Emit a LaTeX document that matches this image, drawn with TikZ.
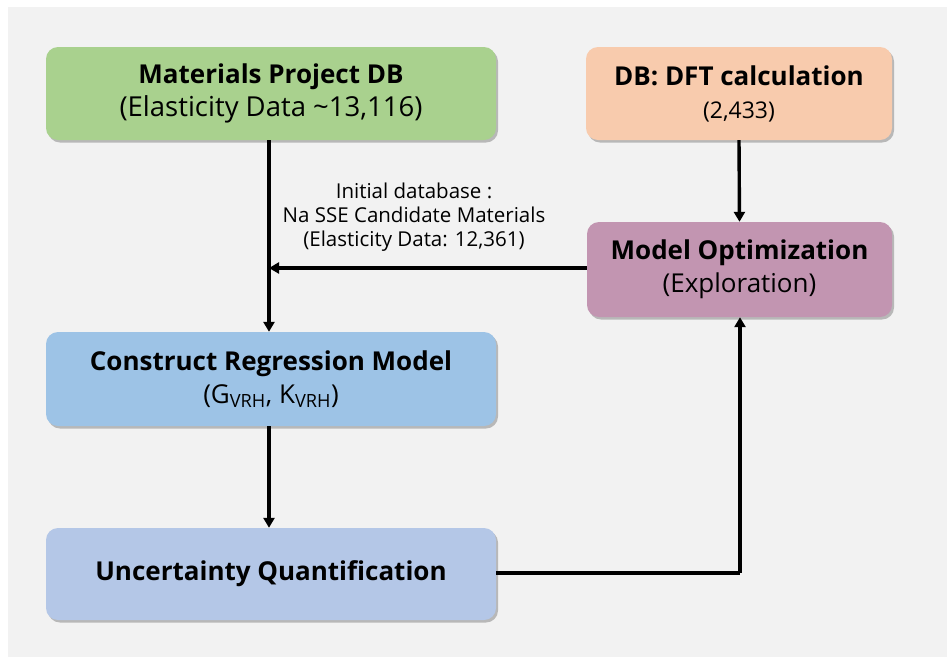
\documentclass[tikz,border=0pt]{standalone}
\usepackage{fontspec}
\setmainfont{Open Sans}
\usetikzlibrary{shadows,arrows.meta}
\definecolor{bgc}{HTML}{F2F2F2}
\definecolor{cgreen}{HTML}{A9D18E}
\definecolor{corange}{HTML}{F8CBAD}
\definecolor{cpurple}{HTML}{C295B1}
\definecolor{cblue}{HTML}{9DC3E6}
\definecolor{cblue2}{HTML}{B4C7E7}
\tikzset{
  box/.style={rounded corners=12pt, inner sep=0pt, align=center,
    drop shadow={shadow xshift=2pt, shadow yshift=-2.5pt, opacity=0.35, fill=black!70},
    font=\fontsize{26}{33}\selectfont},
  arr/.style={line width=3.4pt, -{Triangle[length=10pt,width=11pt]}},
  ln/.style={line width=3.4pt},
  lbl/.style={font=\fontsize{20.5}{24}\selectfont, align=center, inner sep=0pt},
}
\begin{document}
\begin{tikzpicture}[x=1pt,y=-1pt]
\useasboundingbox (0,0) rectangle (947,657);
\fill[white] (0,0) rectangle (947,657);
\fill[bgc] (8,7) rectangle (947,657);
\node[box, fill=cgreen, minimum width=450pt, minimum height=93pt] (mp) at (271,93.5)
  {\textbf{Materials Project DB}\\{\fontsize{27.5}{33}\selectfont(Elasticity Data \textasciitilde13,116)}};
\node[box, fill=corange, minimum width=306pt, minimum height=93pt] (dft) at (739,93.5)
  {\textbf{DB: DFT calculation}\\{\fontsize{23}{30}\selectfont(2,433)}};
\node[box, fill=cpurple, minimum width=305pt, minimum height=95pt] (opt) at (739.5,269.5)
  {\textbf{Model Optimization}\\(Exploration)};
\node[box, fill=cblue, minimum width=450pt, minimum height=94pt] (reg) at (271,379)
  {\textbf{Construct Regression Model}\\(G\textsubscript{VRH}, K\textsubscript{VRH})};
\node[box, fill=cblue2, minimum width=450pt, minimum height=92pt] (unc) at (271,574)
  {\textbf{Uncertainty Quantification}};
\coordinate (j) at (269,268);
\node[lbl] (lab) at (414,217) {Initial database :\\Na SSE Candidate Materials\\(Elasticity Data: 12,361)};
\draw[arr] (mp.south -| j) -- (reg.north -| j);
\draw[arr] (opt.west |- j) -- (j);
\draw[arr] (dft.south) -- (opt.north);
\draw[arr] (reg.south -| j) -- (unc.north -| j);
\coordinate (k) at (740,573);
\draw[ln] (unc.east |- k) -- (k);
\draw[arr] (k) -- (k |- opt.south);
\end{tikzpicture}
\end{document}
